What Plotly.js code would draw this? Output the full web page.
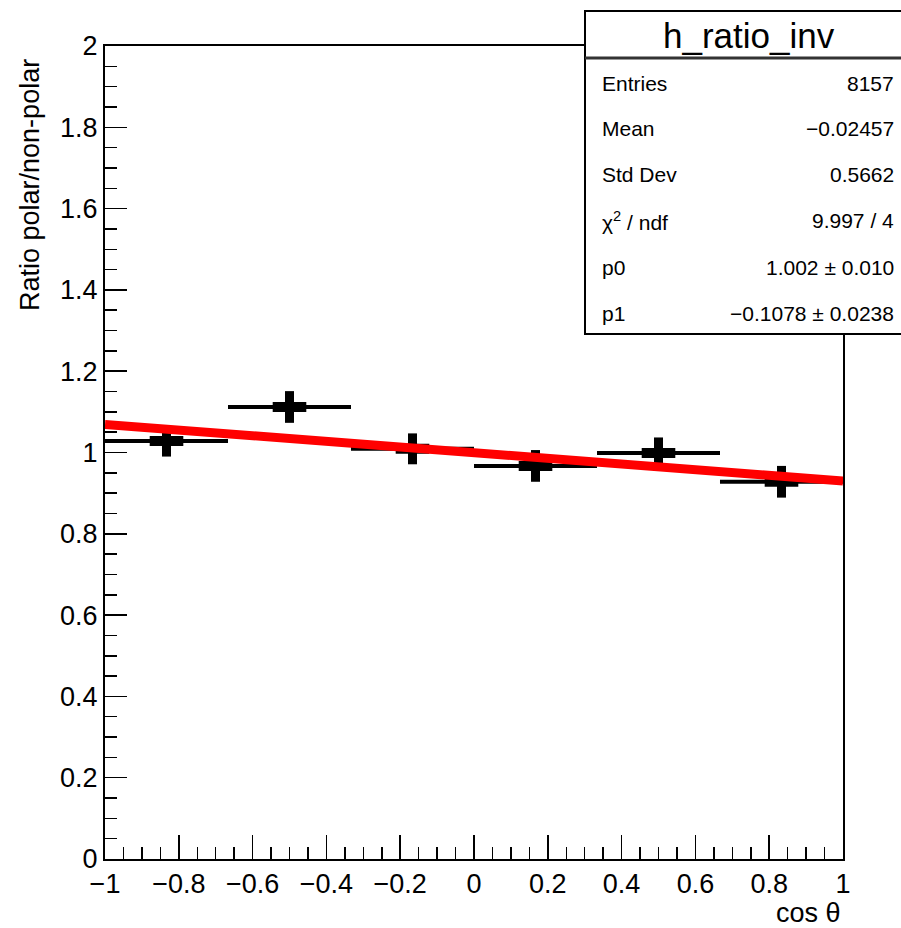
<!DOCTYPE html>
<html>
<head>
<meta charset="utf-8">
<script src="https://cdn.plot.ly/plotly-3.0.1.min.js"></script>
<style>
html,body{margin:0;padding:0;background:#fff;}
#chart{width:901px;height:928px;}
</style>
</head>
<body>
<div id="chart"></div>
<script>
// ---- data ----
const binEdges   = [-1, -2/3, -1/3, 0, 1/3, 2/3, 1];
const binCenters = [-0.8333, -0.5, -0.1667, 0.1667, 0.5, 0.8333];
const ratio      = [1.028, 1.112, 1.009, 0.967, 0.999, 0.928];
const ratioErr   = [0.038, 0.039, 0.038, 0.039, 0.038, 0.039];
const fitX       = [-1, 1];
const fitY       = [1.069, 0.930];
const xTicks     = [-1, -0.8, -0.6, -0.4, -0.2, 0, 0.2, 0.4, 0.6, 0.8, 1];
const yTicks     = [0, 0.2, 0.4, 0.6, 0.8, 1, 1.2, 1.4, 1.6, 1.8, 2];
const statLabels = ["Entries", "Mean", "Std Dev", "χ<sup>2</sup> / ndf", "p0", "p1"];
const statValues = ["8157", "−0.02457", "0.5662", "9.997 / 4", "1.002 ± 0.010", "−0.1078 ± 0.0238"];
const histName   = "h_ratio_inv";

const binHalf = binCenters.map((c, i) => (binEdges[i + 1] - binEdges[i]) / 2);

const W = 901, H = 928;
const L = 105, R = 58, T = 46, B = 69;
const pw = W - L - R, ph = H - T - B;
const px = x => (x - L) / pw;
const py = y => (H - B - y) / ph;

const font = "Liberation Sans, Arial, Helvetica, sans-serif";

const traces = [
  {
    x: binCenters, y: ratio, type: "scatter", mode: "markers",
    marker: {symbol: "line-ew", size: 24, color: "black", line: {width: 10, color: "black"}},
    error_y: {type: "data", array: ratioErr, visible: true, thickness: 9, width: 0, color: "black"},
    error_x: {type: "data", array: binHalf, visible: true, thickness: 4, width: 0, color: "black"},
    hoverinfo: "x+y"
  },
  {
    x: fitX, y: fitY, type: "scatter", mode: "lines",
    line: {color: "#ff0000", width: 9}
  }
];

const axisCommon = {
  showgrid: false, zeroline: false,
  showline: true, linecolor: "black", linewidth: 2, mirror: true,
  ticks: "inside", tickcolor: "black", tickwidth: 1.5,
  tickfont: {family: font, size: 27, color: "black"},
  fixedrange: true
};

const shapes = [
  {type: "rect", xref: "paper", yref: "paper",
   x0: px(585), x1: px(912), y0: py(334), y1: py(11),
   fillcolor: "white", line: {color: "black", width: 2}, layer: "above"},
  {type: "line", xref: "paper", yref: "paper",
   x0: px(585), x1: px(912), y0: py(58), y1: py(58),
   line: {color: "#333", width: 3}, layer: "above"}
];

const rowY = [83, 129, 175, 221, 267, 313];
const annotations = [
  {text: histName, xref: "paper", yref: "paper", x: px(749), y: py(36),
   xanchor: "center", yanchor: "middle", showarrow: false,
   font: {family: font, size: 35, color: "black"}},
  {text: "Ratio polar/non-polar", xref: "paper", yref: "paper", x: px(30), y: py(57),
   xanchor: "center", yanchor: "top", textangle: -90, showarrow: false,
   font: {family: font, size: 27, color: "black"}},
  {text: "cos θ", xref: "paper", yref: "paper", x: px(843), y: py(913),
   xanchor: "right", yanchor: "middle", showarrow: false,
   font: {family: font, size: 27, color: "black"}}
];
statLabels.forEach((lab, i) => {
  annotations.push({text: lab, xref: "paper", yref: "paper", x: px(600), y: py(rowY[i]),
    xanchor: "left", yanchor: "middle", showarrow: false,
    font: {family: font, size: 21, color: "black"}});
  annotations.push({text: statValues[i], xref: "paper", yref: "paper", x: px(896), y: py(rowY[i]),
    xanchor: "right", yanchor: "middle", showarrow: false,
    font: {family: font, size: 21, color: "black"}});
});

const layout = {
  width: W, height: H,
  margin: {l: L, r: R, t: T, b: B, pad: 0},
  paper_bgcolor: "white", plot_bgcolor: "white",
  showlegend: false,
  xaxis: Object.assign({}, axisCommon, {
    range: [-1, 1], tickvals: xTicks, ticklen: 24,
    minor: {dtick: 0.05, tick0: -1, ticks: "inside", ticklen: 12, tickcolor: "black", tickwidth: 1.5}
  }),
  yaxis: Object.assign({}, axisCommon, {
    range: [0, 2], tickvals: yTicks, ticklen: 22,
    minor: {dtick: 0.05, tick0: 0, ticks: "inside", ticklen: 12, tickcolor: "black", tickwidth: 1.5}
  }),
  shapes: shapes,
  annotations: annotations
};

Plotly.newPlot("chart", traces, layout, {displayModeBar: false, staticPlot: true});
</script>
</body>
</html>
